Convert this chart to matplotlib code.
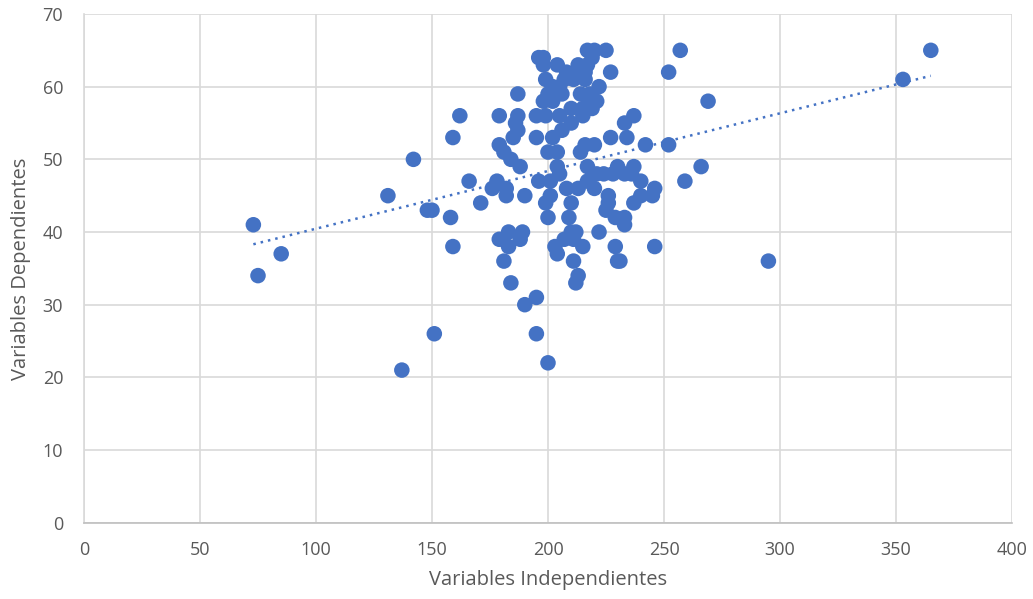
import numpy as np
import matplotlib
matplotlib.use("Agg")
import matplotlib.pyplot as plt

plt.rcParams['font.family'] = ['Open Sans', 'DejaVu Sans']

x_vals = [73, 75, 85, 131, 142, 137, 148, 150, 151, 158, 159, 159, 162, 166, 171,
          176, 178, 179, 179, 179, 181, 181, 182, 182, 183, 183, 184, 184, 185, 186,
          187, 187, 187, 188, 188, 189, 190, 190, 195, 195, 195, 195, 196, 196, 198,
          198, 198, 199, 199, 199, 200, 200, 200, 200, 201, 201, 202, 202, 202, 203,
          204, 204, 204, 204, 205, 205, 205, 206, 206, 207, 207, 208, 208, 209, 210,
          210, 210, 210, 211, 211, 211, 212, 212, 212, 213, 213, 213, 214, 214, 215,
          215, 215, 216, 216, 216, 217, 217, 217, 217, 218, 218, 219, 219, 220, 220,
          220, 221, 221, 222, 222, 224, 225, 225, 226, 226, 227, 227, 228, 229, 229,
          230, 230, 231, 233, 233, 233, 233, 234, 236, 237, 237, 237, 240, 240, 242,
          245, 246, 246, 252, 252, 257, 259, 266, 269, 295, 353, 365]
y_vals = [41, 34, 37, 45, 50, 21, 43, 43, 26, 42, 38, 53, 56, 47, 44,
          46, 47, 56, 52, 39, 51, 36, 45, 46, 38, 40, 33, 50, 53, 55,
          56, 54, 59, 49, 39, 40, 45, 30, 26, 31, 53, 56, 64, 47, 64,
          63, 58, 61, 56, 44, 22, 42, 51, 59, 45, 47, 58, 53, 60, 38,
          37, 51, 49, 63, 56, 48, 60, 54, 59, 39, 61, 62, 46, 42, 44,
          40, 57, 55, 61, 39, 36, 40, 33, 62, 46, 34, 63, 51, 59, 57,
          56, 38, 52, 61, 62, 65, 63, 49, 47, 59, 58, 64, 57, 65, 46,
          52, 48, 58, 40, 60, 48, 65, 43, 44, 45, 62, 53, 48, 42, 38,
          49, 36, 36, 41, 42, 48, 55, 53, 48, 56, 44, 49, 47, 45, 52,
          45, 46, 38, 62, 52, 65, 47, 49, 58, 36, 61, 65]

x_ticks = [0, 50, 100, 150, 200, 250, 300, 350, 400]
y_ticks = [0, 10, 20, 30, 40, 50, 60, 70]
x_label = "Variables Independientes"
y_label = "Variables Dependientes"

color = '#4472C4'
grid_c = '#D9D9D9'
text_c = '#595959'

fig = plt.figure(figsize=(10.33, 5.99), dpi=100)
ax = fig.add_axes([84/1033, (599-522.7)/599, (1012-84)/1033, (522.7-14)/599])

xa = np.array(x_vals, dtype=float)
ya = np.array(y_vals, dtype=float)
ax.scatter(xa, ya, s=125, color=color, edgecolors='none', zorder=3)

m, b = np.polyfit(xa, ya, 1)
xl = np.array([xa.min(), xa.max()])
ax.plot(xl, m*xl + b, linestyle=(0, (1, 2)), color=color, linewidth=1.8, zorder=4)

ax.set_xlim(0, 400)
ax.set_ylim(0, 70)
ax.set_xticks(x_ticks)
ax.set_yticks(y_ticks)
ax.grid(True, color=grid_c, linewidth=1.2, zorder=0)
ax.set_axisbelow(True)
for s in ['top', 'right']:
    ax.spines[s].set_visible(False)
ax.spines['left'].set_color(grid_c)
ax.spines['bottom'].set_color('#BFBFBF')
ax.spines['left'].set_linewidth(1.2)
ax.spines['bottom'].set_linewidth(1.2)
ax.tick_params(length=0, colors=text_c, labelsize=13)
ax.tick_params(axis='x', pad=13)
ax.tick_params(axis='y', pad=15)
ax.set_xlabel(x_label, fontsize=14.5, color=text_c, labelpad=8)
ax.set_ylabel(y_label, fontsize=14.5, color=text_c, labelpad=8)

fig.savefig('out.png', dpi=100, facecolor='white')
